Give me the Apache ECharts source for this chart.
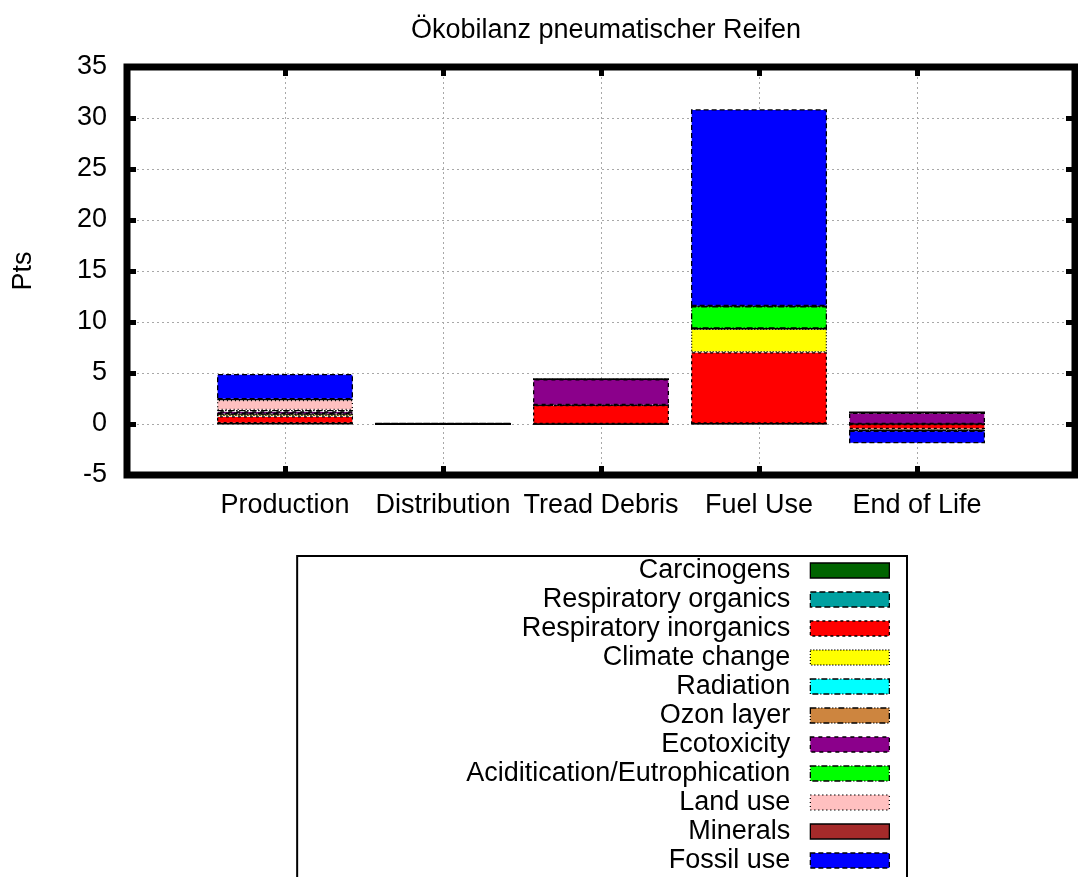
<!DOCTYPE html>
<html>
<head>
<meta charset="utf-8">
<title>Ökobilanz pneumatischer Reifen</title>
<script src="https://cdn.jsdelivr.net/npm/echarts@6/dist/echarts.min.js"></script>
<style>
  html, body { margin: 0; padding: 0; background: #fff; }
  #chart { width: 1078px; height: 877px; }
</style>
</head>
<body>
<div id="chart"></div>
<script>
// Life-cycle stages on the x axis
const categories = ['Production', 'Distribution', 'Tread Debris', 'Fuel Use', 'End of Life'];

// Impact categories, stacked bottom to top
const carcinogens          = [0.05, 0.00, 0.00, 0.02, 0.00];
const respiratoryOrganics  = [0.01, 0.00, 0.00, 0.02, 0.00];
const respiratoryInorganics= [0.70, 0.02, 1.86, 7.00, -0.50];
const climateChange        = [0.20, 0.02, 0.00, 2.30, -0.15];
const radiation            = [0.02, 0.00, 0.00, 0.02, 0.00];
const ozonLayer            = [0.01, 0.00, 0.00, 0.00, 0.00];
const ecotoxicity          = [0.25, 0.00, 2.52, 0.00, 1.10];
const acidification        = [0.13, 0.00, 0.00, 2.20, 0.00];
const landUse              = [1.00, 0.00, 0.00, 0.00, 0.05];
const minerals             = [0.05, 0.00, 0.00, 0.00, 0.00];
const fossilUse            = [2.48, 0.04, 0.02, 19.30, -1.24];

const yTicks = { min: -5, max: 35, step: 5 };

const FONT = '"Liberation Sans", Arial, Helvetica, sans-serif';
const FS = 27;

const seriesDefs = [
  { name: 'Carcinogens',                   data: carcinogens,           color: '#006400', dash: 'solid' },
  { name: 'Respiratory organics',          data: respiratoryOrganics,   color: '#00a0a0', dash: [6, 3] },
  { name: 'Respiratory inorganics',        data: respiratoryInorganics, color: '#ff0000', dash: [3, 3] },
  { name: 'Climate change',                data: climateChange,         color: '#ffff00', dash: [1, 2] },
  { name: 'Radiation',                     data: radiation,             color: '#00ffff', dash: [6, 2, 1, 2] },
  { name: 'Ozon layer',                    data: ozonLayer,             color: '#cd853f', dash: [6, 2, 1, 2, 1, 2] },
  { name: 'Ecotoxicity',                   data: ecotoxicity,           color: '#8b008b', dash: [4, 4] },
  { name: 'Aciditication/Eutrophication',  data: acidification,         color: '#00ff00', dash: [6, 2, 1, 2] },
  { name: 'Land use',                      data: landUse,               color: '#ffc0c0', dash: [1, 3] },
  { name: 'Minerals',                      data: minerals,              color: '#a52a2a', dash: 'solid' },
  { name: 'Fossil use',                    data: fossilUse,             color: '#0000ff', dash: [5, 3] }
];

// The x range runs one slot past each end stage, so pad the category list
const xSlots = [''].concat(categories, ['']);
const padded = arr => [null].concat(arr, [null]);

const boxStyle = s => ({ color: s.color, borderColor: '#000', borderWidth: 1.3, borderType: s.dash });

const gridLine = { show: true, lineStyle: { color: '#a8a8a8', width: 1, type: [2, 3] }, showMinLine: false, showMaxLine: false };
const tickStyle = { show: true, inside: true, length: 9, lineStyle: { color: '#000', width: 5 } };

const xBase = {
  type: 'category', data: xSlots, boundaryGap: false,
  axisLine: { show: false, onZero: false }
};
const yBase = {
  type: 'value', min: yTicks.min, max: yTicks.max, interval: yTicks.step,
  axisLine: { show: false, onZero: false }
};

const chart = echarts.init(document.getElementById('chart'), null, { renderer: 'canvas' });

chart.setOption({
  animation: false,
  backgroundColor: '#fff',
  title: {
    text: 'Ökobilanz pneumatischer Reifen',
    left: 606, top: 17, textAlign: 'center', padding: 0,
    textStyle: { fontFamily: FONT, fontSize: FS, fontWeight: 'normal', color: '#000' }
  },
  grid: {
    left: 127, right: -4, top: 67, bottom: 402,
    show: true, borderColor: '#000', borderWidth: 7, backgroundColor: 'transparent'
  },
  legend: {
    orient: 'vertical', align: 'right',
    right: 171, top: 556, height: 345,
    padding: [0, 17, 8, 169],
    itemGap: 0, itemWidth: 79, itemHeight: 15,
    selectedMode: false,
    borderColor: '#000', borderWidth: 2,
    icon: 'rect',
    formatter: name => name + '  ',
    textStyle: { fontFamily: FONT, fontSize: FS, color: '#000', lineHeight: 29 },
    data: seriesDefs.map(s => ({ name: s.name, itemStyle: boxStyle(s) }))
  },
  xAxis: [
    Object.assign({}, xBase, {
      position: 'bottom',
      axisTick: tickStyle,
      axisLabel: { margin: 17, fontFamily: FONT, fontSize: FS, color: '#000', interval: 0 },
      splitLine: Object.assign({ interval: 0 }, gridLine)
    }),
    Object.assign({}, xBase, {
      position: 'top',
      axisTick: tickStyle,
      axisLabel: { show: false },
      splitLine: { show: false }
    })
  ],
  yAxis: [
    Object.assign({}, yBase, {
      position: 'left',
      name: 'Pts', nameLocation: 'middle', nameGap: 90, nameRotate: 90,
      nameTextStyle: { fontFamily: FONT, fontSize: FS, color: '#000' },
      axisTick: tickStyle,
      axisLabel: { margin: 20, fontFamily: FONT, fontSize: FS, color: '#000' },
      splitLine: gridLine
    }),
    Object.assign({}, yBase, {
      position: 'right',
      axisTick: tickStyle,
      axisLabel: { show: false },
      splitLine: { show: false }
    })
  ],
  series: seriesDefs.map(s => ({
    name: s.name,
    type: 'bar',
    stack: 'impact',
    xAxisIndex: 0, yAxisIndex: 0,
    barWidth: 136,
    itemStyle: boxStyle(s),
    emphasis: { disabled: true },
    data: padded(s.data)
  }))
});
</script>
</body>
</html>
